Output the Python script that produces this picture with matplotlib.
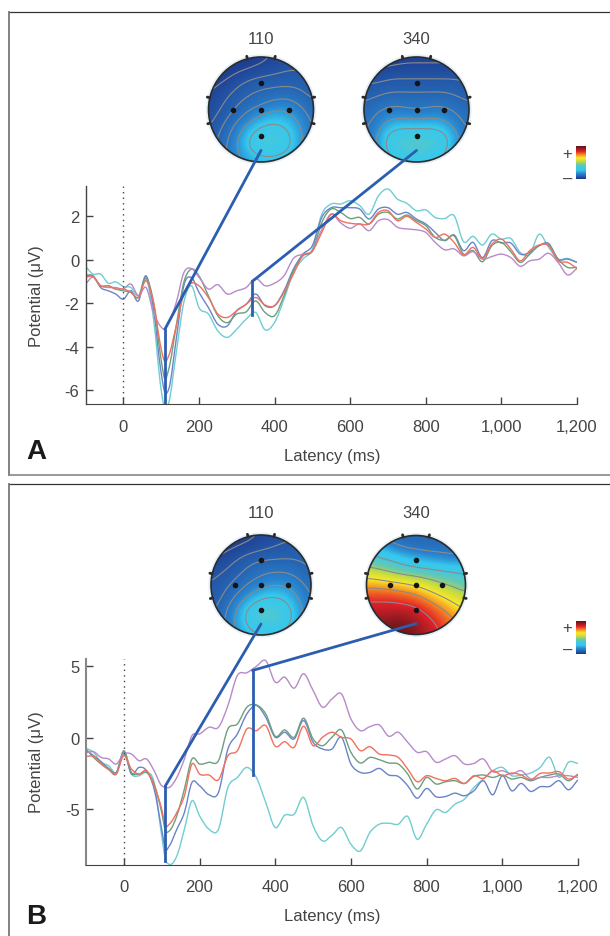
import matplotlib
matplotlib.use("Agg")
import matplotlib.pyplot as plt
import numpy as np
from matplotlib.colors import LinearSegmentedColormap
from matplotlib.lines import Line2D
from matplotlib.patches import Circle, ConnectionPatch, PathPatch
from matplotlib.path import Path

plt.rcParams['font.family'] = ['Liberation Sans', 'DejaVu Sans']

W, H = 610, 937

latency = [-100, -80, -60, -40, -20, 0, 20, 40, 60, 80, 100, 110, 120, 140, 160, 180, 200,
           225, 250, 275, 300, 325, 350, 375, 400, 425, 450, 475, 500, 525, 550, 575,
           600, 625, 650, 675, 700, 725, 750, 775, 800, 825, 850, 875, 900, 925, 950, 975,
           1000, 1025, 1050, 1075, 1100, 1125, 1150, 1175, 1200]
xticks = [0, 200, 400, 600, 800, 1000, 1200]
xticklabels = ["0", "200", "400", "600", "800", "1,000", "1,200"]

a_purple = [-1.12, -0.8, -1.2, -1.28, -1.28, -1.35, -1.12, -1.66, -1.28, -2.43, -3.1, -3.2, -2.9, -1.97, -0.6, -0.4, -0.8,
            -1.35, -1.15, -1.58, -1.43, -1.28, -0.86, -1.2, -1.08, -0.74, 0.06, 0.26, 0.4, 1.4, 2.1, 1.7,
            1.45, 1.65, 1.34, 1.8, 1.85, 1.5, 1.42, 1.38, 1.26, 0.8, 0.46, 0.5, 0.18, 0.37, 0.03, 0.15,
            0.26, 0.1, -0.3, -0.05, 0.03, 0.3, -0.12, -0.7, -0.4]
a_red = [-0.8, -0.78, -1.2, -1.2, -1.35, -1.35, -1.5, -1.74, -0.97, -1.97, -4.1, -4.7, -4.43, -3.05, -1.58, -1.08, -1.2,
         -1.74, -2.5, -2.66, -2.35, -2.05, -1.74, -2.09, -2.12, -1.5, -0.66, 0.2, 0.4, 1.26, 2.1, 1.8,
         1.68, 1.65, 1.65, 2.18, 2.26, 1.8, 2.0, 1.72, 1.42, 1.03, 1.18, 0.8, 0.22, 0.57, 0.06, 0.72,
         0.95, 0.49, -0.05, 0.42, 0.68, 0.65, -0.05, -0.12, -0.4]
a_green = [-0.7, -0.77, -1.2, -1.2, -1.35, -1.43, -1.5, -1.74, -0.86, -1.97, -4.6, -5.5, -5.05, -3.05, -1.05, -0.43, -0.74,
           -1.66, -2.58, -2.9, -2.5, -2.4, -1.9, -2.43, -2.58, -1.66, -0.5, 0.18, 0.4, 1.72, 2.34, 2.18,
           1.9, 1.95, 1.65, 2.1, 2.18, 1.88, 2.06, 1.8, 1.57, 1.03, 0.9, 1.1, 0.26, 0.42, -0.09, 0.65,
           0.8, 0.37, -0.12, 0.26, 0.65, 0.68, 0.03, -0.35, -0.35]
a_blue = [-0.74, -0.74, -1.28, -1.43, -1.58, -1.82, -1.43, -1.9, -0.74, -2.28, -5.2, -6.12, -5.97, -3.66, -1.2, -0.82, -1.5,
          -2.2, -2.97, -3.05, -2.35, -2.05, -1.58, -2.12, -2.12, -1.43, -0.43, 0.26, 0.65, 1.95, 2.4, 2.4,
          2.4, 2.34, 1.88, 2.34, 2.4, 2.1, 2.18, 1.88, 1.65, 1.26, 0.88, 1.14, 0.42, 0.8, 0.1, 0.88,
          0.77, 0.77, 0.26, 0.34, 0.65, 0.75, 0.03, 0.03, -0.12]
a_cyan = [-0.31, -0.66, -0.66, -1.08, -1.02, -1.23, -1.28, -1.66, -0.82, -2.74, -5.97, -6.9, -6.6, -4.28, -1.97, -1.2, -2.2,
          -2.5, -3.28, -3.58, -3.2, -2.74, -2.43, -3.23, -2.89, -1.82, -0.58, 0.03, 0.49, 2.1, 2.57, 2.57,
          2.72, 2.5, 2.1, 2.95, 3.26, 2.8, 2.6, 2.26, 2.3, 1.95, 1.9, 2.03, 0.83, 1.08, 0.68, 1.18,
          0.95, 0.98, 0.34, 0.26, 1.18, 0.57, 0.03, 0.06, -0.12]

b_purple = [-1.05, -0.96, -1.36, -1.47, -1.82, -1.12, -1.12, -1.59, -1.47, -2.29, -3.34, -3.46, -3.46, -2.76, -1.47, 0.16, 0.28,
            0.75, 0.75, 2.27, 4.37, 4.56, 5.0, 5.4, 3.9, 4.25, 3.48, 4.49, 3.32, 2.15, 2.73, 3.08,
            1.33, 0.51, 0.79, 0.91, 0.12, 0.4, -0.3, -1.0, -0.96, -1.7, -1.47, -1.24, -1.82, -1.78, -1.47, -2.36,
            -2.29, -2.52, -2.29, -2.87, -2.76, -2.76, -2.64, -2.64, -2.76]
b_red = [-1.29, -1.29, -1.82, -2.22, -2.52, -1.24, -2.17, -2.52, -2.29, -3.34, -4.98, -6.14, -6.03, -5.21, -4.04, -1.82, -2.52,
         -2.59, -2.92, -1.24, -0.89, 0.63, 0.51, 0.86, -0.58, -0.26, -0.65, 0.82, -0.54, 0.05, 0.4, 0.05,
         -0.07, -0.89, -0.61, -1.12, -1.19, -1.36, -2.17, -3.06, -2.64, -2.83, -2.99, -2.83, -3.18, -2.64, -2.83, -2.29,
         -2.64, -2.45, -2.59, -2.92, -2.48, -2.45, -2.36, -2.87, -2.59]
b_green = [-0.77, -1.36, -1.82, -2.17, -2.52, -0.89, -2.41, -2.52, -2.41, -3.22, -5.21, -6.5, -6.5, -5.44, -3.57, -1.47, -1.82,
           -1.7, -1.59, 0.63, 0.98, 2.15, 2.31, 1.68, 0.12, 0.56, 0.05, 1.38, -0.07, -0.54, 0.05, 0.56,
           -1.0, -1.75, -1.36, -1.52, -1.75, -1.82, -2.52, -3.57, -2.76, -3.22, -3.06, -2.99, -3.18, -2.69, -2.59, -2.76,
           -2.59, -2.87, -2.76, -2.99, -2.76, -2.59, -2.52, -2.99, -2.52]
b_blue = [-0.82, -1.24, -1.66, -2.13, -2.41, -1.0, -2.52, -2.06, -2.29, -3.57, -6.38, -7.78, -7.55, -6.38, -5.21, -3.11, -3.34,
          -3.97, -3.81, -0.77, 0.28, 1.68, 2.27, 1.45, 0.05, 0.4, -0.07, 1.22, -0.3, -0.77, -0.77, 0.05,
          -1.82, -2.41, -2.41, -2.13, -2.59, -2.69, -3.34, -4.21, -3.53, -4.11, -4.09, -3.86, -4.04, -3.69, -2.99, -3.97,
          -2.64, -3.69, -3.18, -3.74, -3.41, -3.39, -2.99, -3.62, -2.92]
b_cyan = [-0.72, -1.0, -1.7, -1.94, -2.41, -1.0, -2.52, -2.64, -2.41, -3.11, -6.85, -8.48, -8.83, -8.25, -6.38, -4.39, -5.44,
          -6.38, -6.38, -3.46, -2.76, -2.06, -2.76, -4.51, -6.26, -5.4, -5.33, -4.16, -6.14, -7.2, -6.8, -6.26,
          -7.43, -7.9, -6.61, -6.03, -5.96, -6.03, -5.49, -7.08, -6.03, -5.02, -5.21, -4.63, -4.28, -3.46, -2.87, -2.29,
          -2.06, -2.64, -2.59, -2.45, -2.06, -1.36, -2.76, -1.7, -1.78]

# scalp maps, rows run front to back
map_a110 = [[.02, .02, .03, .03, .04, .05, .06, .06, .06],
            [.02, .03, .04, .05, .06, .07, .08, .08, .08],
            [.04, .05, .07, .09, .10, .10, .10, .10, .09],
            [.05, .07, .09, .11, .12, .13, .14, .12, .10],
            [.06, .08, .11, .14, .16, .20, .20, .16, .12],
            [.07, .10, .14, .19, .27, .30, .27, .20, .13],
            [.08, .12, .17, .30, .38, .39, .34, .22, .14],
            [.09, .13, .19, .30, .38, .38, .33, .22, .14],
            [.09, .13, .17, .22, .24, .24, .22, .17, .12]]
map_a340 = [[.03, .03, .03, .04, .04, .04, .04, .04, .04],
            [.05, .05, .06, .06, .06, .06, .06, .06, .06],
            [.08, .08, .09, .09, .09, .09, .09, .09, .08],
            [.10, .11, .12, .12, .12, .12, .12, .11, .10],
            [.12, .14, .16, .15, .14, .15, .16, .14, .12],
            [.13, .17, .22, .24, .22, .24, .22, .17, .13],
            [.14, .20, .36, .38, .39, .38, .36, .22, .14],
            [.14, .21, .36, .40, .42, .40, .36, .22, .14],
            [.14, .19, .26, .30, .32, .30, .26, .19, .14]]
map_b110 = [[.02, .02, .03, .04, .05, .06, .07, .07, .07],
            [.03, .04, .05, .06, .07, .08, .09, .09, .09],
            [.05, .06, .08, .10, .11, .11, .11, .11, .10],
            [.07, .08, .10, .12, .14, .15, .15, .13, .11],
            [.08, .10, .12, .15, .18, .20, .20, .17, .13],
            [.09, .11, .15, .21, .29, .31, .28, .20, .14],
            [.10, .13, .20, .34, .40, .41, .36, .24, .15],
            [.10, .14, .22, .34, .40, .40, .35, .24, .15],
            [.10, .14, .20, .26, .28, .28, .26, .20, .14]]
map_b340 = [[.14, .12, .12, .12, .12, .12, .12, .12, .14],
            [.30, .25, .18, .14, .13, .13, .13, .13, .13],
            [.42, .40, .36, .30, .26, .22, .20, .18, .18],
            [.58, .54, .50, .46, .44, .42, .40, .38, .36],
            [.72, .72, .70, .68, .64, .58, .52, .48, .44],
            [.82, .82, .82, .80, .78, .72, .66, .60, .54],
            [.88, .88, .88, .88, .86, .82, .76, .70, .64],
            [.94, .94, .96, .96, .92, .86, .82, .76, .70],
            [.98, .98, 1.0, 1.0, .96, .90, .84, .78, .72]]

electrodes_x = [0, -0.53, 0, 0.53, 0]
electrodes_y = [0.5, 0, 0, 0, -0.5]
tick_angles = [75, 105, 13, 167, -15, 195]

colors = {"purple": "#b78ac9", "red": "#f1705e", "green": "#6c9f7c", "blue": "#6a84c9", "cyan": "#70cdd0"}
guide = "#2b5eb0"
dark = "#444444"
text_col = "#444444"

cmap = LinearSegmentedColormap.from_list("topo", [
    (0.0, "#1a2a80"), (0.08, "#2458a8"), (0.18, "#2a85cf"), (0.28, "#35c8ee"), (0.36, "#3fc8e4"), (0.46, "#6cc9a8"),
    (0.55, "#c8dc3c"), (0.65, "#fbe92a"), (0.75, "#f58a22"), (0.85, "#e3202a"), (0.95, "#8a1a20"),
    (1.0, "#6a1418")])

fig = plt.figure(figsize=(W / 100, H / 100), dpi=100)


def px_axes(x0, y0, x1, y1):
    return fig.add_axes([x0 / W, 1 - y1 / H, (x1 - x0) / W, (y1 - y0) / H])


def smooth_trace(ax, x, y, color):
    # bezier through the read values so the trace is not all corners
    x = np.array(x, dtype=float)
    y = np.array(y, dtype=float)
    m = np.gradient(y, x)
    verts = [(x[0], y[0])]
    codes = [Path.MOVETO]
    for i in range(len(x) - 1):
        h = (x[i + 1] - x[i]) / 3
        verts += [(x[i] + h, y[i] + m[i] * h), (x[i + 1] - h, y[i + 1] - m[i + 1] * h), (x[i + 1], y[i + 1])]
        codes += [Path.CURVE4] * 3
    ax.add_patch(PathPatch(Path(verts, codes), fill=False, ec=color, lw=1.0))


def eeg_axes(box, ylim, yticks, yticklabels, series, left_col, left_lw):
    ax = px_axes(*box)
    for name, vals in series:
        smooth_trace(ax, latency, vals, colors[name])
    ax.axvline(0, color="#444444", ls=(0, (1, 3)), lw=1.0)
    ax.set_xlim(-100, 1200)
    ax.set_ylim(*ylim)
    ax.set_xticks(xticks)
    ax.set_xticklabels(xticklabels)
    ax.set_yticks(yticks)
    ax.set_yticklabels(yticklabels)
    ax.tick_params(direction="in", length=5, width=1, color=dark, labelsize=12, labelcolor=text_col)
    ax.tick_params(axis="x", pad=10.5)
    ax.tick_params(axis="y", pad=4.5)
    ax.spines["top"].set_visible(False)
    ax.spines["right"].set_visible(False)
    ax.spines["left"].set_color(left_col)
    ax.spines["left"].set_linewidth(left_lw)
    ax.spines["bottom"].set_color(dark)
    ax.patch.set_visible(False)
    return ax


def smooth_field(field, n=65):
    arr = np.array(field)
    old = np.linspace(0, 1, arr.shape[0])
    new = np.linspace(0, 1, n)
    rows = np.array([np.interp(new, old, r) for r in arr])
    full = np.array([np.interp(new, old, c) for c in rows.T]).T
    k = np.ones(9) / 9
    for _ in range(2):
        full = np.pad(full, 4, mode="edge")
        full = np.apply_along_axis(lambda v: np.convolve(v, k, mode="valid"), 0, full)
        full = np.apply_along_axis(lambda v: np.convolve(v, k, mode="valid"), 1, full)
    return full


def topo_axes(cx, cy, r, field, title, title_y):
    # little bit of margin so the head ticks and halo fit
    m = 1.12
    ax = px_axes(cx - r * m, cy - r * m, cx + r * m, cy + r * m)
    ax.set_xlim(-m, m)
    ax.set_ylim(-m, m)
    ax.axis("off")
    ax.add_patch(Circle((0, 0), 1.05, color="#e4f0f9", lw=0))
    arr = smooth_field(field)
    im = ax.imshow(arr, cmap=cmap, vmin=0, vmax=1, extent=(-1, 1, -1, 1), interpolation="bilinear", zorder=2)
    clip = Circle((0, 0), 1, transform=ax.transData)
    im.set_clip_path(clip)
    gx = np.linspace(-1, 1, arr.shape[1])
    gy = np.linspace(1, -1, arr.shape[0])
    levels = [0.05, 0.08, 0.11, 0.15, 0.21, 0.3] if arr.max() < 0.6 else [0.16, 0.36, 0.5, 0.64, 0.74, 0.84]
    cs = ax.contour(gx, gy, arr, levels=levels, colors="#8a8a8a", linewidths=0.8, zorder=3)
    cs.set_clip_path(clip)
    ax.add_patch(Circle((0, 0), 1, fill=False, ec="#2b2b2b", lw=1.2, zorder=4))
    for ang in tick_angles:
        t = np.deg2rad(ang)
        ax.plot([np.cos(t), 1.05 * np.cos(t)], [np.sin(t), 1.05 * np.sin(t)], color="#2b2b2b", lw=2, zorder=4,
                solid_capstyle="round")
    ax.plot(electrodes_x, electrodes_y, "o", color="#151515", ms=3, zorder=5)
    fig.text(cx / W, 1 - title_y / H, title, ha="center", va="center", fontsize=12, color=text_col)
    return ax


def connect(ax, topo, start, end):
    con = ConnectionPatch(start, end, coordsA=ax.transData, coordsB=topo.transData, color=guide, lw=2, zorder=10)
    fig.add_artist(con)


def colorbar(x0, y0, x1, y1, plus_y, minus_y):
    cb = px_axes(x0, y0, x1, y1)
    cb.imshow(np.linspace(1, 0.03, 32).reshape(-1, 1), cmap=cmap, vmin=0, vmax=1, aspect="auto")
    cb.axis("off")
    fig.text(567.5 / W, 1 - plus_y / H, "+", ha="center", va="center", fontsize=12, color=text_col)
    fig.text(567.5 / W, 1 - minus_y / H, "\u2013", ha="center", va="center", fontsize=12, color=text_col)


def frame_line(x0, y0, x1, y1, col, lw):
    fig.add_artist(Line2D([x0 / W, x1 / W], [1 - y0 / H, 1 - y1 / H], color=col, lw=lw, transform=fig.transFigure))


# panel frames, open on the right
frame_line(9, 13, 610, 13, "#333333", 0.9)
frame_line(9, 13, 9, 476, "#777777", 1.3)
frame_line(9, 476, 610, 476, "#888888", 1.2)
frame_line(9, 485, 610, 485, "#333333", 0.9)
frame_line(9, 485, 9, 937, "#777777", 1.3)

ax_a = eeg_axes((85.5, 187, 577, 405), (-6.65, 3.4), [2, 0, -2, -4, -6], ["2", "0", "-2", "-4", "-6"],
                [("cyan", a_cyan), ("blue", a_blue), ("green", a_green), ("purple", a_purple), ("red", a_red)],
                dark, 1.0)
ax_b = eeg_axes((86, 660, 578, 865.7), (-8.86, 5.52), [5, 0, -5], ["5", "0", "-5"],
                [("cyan", b_cyan), ("blue", b_blue), ("green", b_green), ("purple", b_purple), ("red", b_red)],
                "#888888", 1.5)

ax_a.plot([110, 110], [-3.2, -6.65], color=guide, lw=2, zorder=6)
ax_a.plot([341, 341], [-1.0, -2.55], color=guide, lw=2, zorder=6)
ax_b.plot([110, 110], [-3.34, -8.6], color=guide, lw=2, zorder=6)
ax_b.plot([340, 340], [4.72, -2.6], color=guide, lw=2, zorder=6)

t1 = topo_axes(261, 110.5, 52.5, map_a110, "110", 39.5)
t2 = topo_axes(416.5, 110.5, 52.5, map_a340, "340", 39.5)
t3 = topo_axes(261, 586, 50, map_b110, "110", 513.5)
t4 = topo_axes(416, 586, 49.5, map_b340, "340", 513.5)

connect(ax_a, t1, (110, -3.2), (0.0, -0.78))
connect(ax_a, t2, (341, -1.0), (0.0, -0.78))
connect(ax_b, t3, (110, -3.34), (0.0, -0.78))
connect(ax_b, t4, (340, 4.72), (0.0, -0.78))

colorbar(576, 147, 586, 180, 154, 179)
colorbar(576, 622, 586, 655, 629, 650)

for (lx, ly, xx, xy, letter, ay) in [(36, 296, 332, 457, "A", 452), (36, 762, 332, 917, "B", 917)]:
    fig.text(lx / W, 1 - ly / H, "Potential (\u03bcV)", rotation=90, ha="center", va="center", fontsize=12, color=text_col)
    fig.text(xx / W, 1 - xy / H, "Latency (ms)", ha="center", va="center", fontsize=12, color=text_col)
    fig.text(36 / W, 1 - ay / H, letter, ha="center", va="center", fontsize=20, fontweight="bold", color="#1a1a1a")

fig.savefig("out.png", dpi=100)
